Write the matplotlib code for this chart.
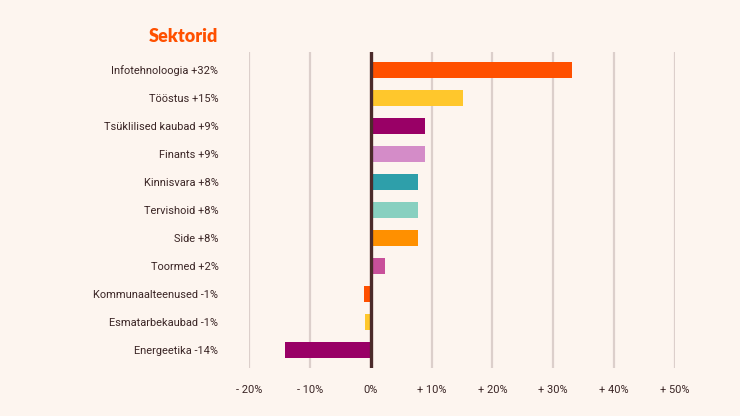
import matplotlib
matplotlib.use("Agg")
import matplotlib.pyplot as plt

categories = ["Infotehnoloogia +32%", "Tööstus +15%", "Tsüklilised kaubad +9%", "Finants +9%",
              "Kinnisvara +8%", "Tervishoid +8%", "Side +8%", "Toormed +2%",
              "Kommunaalteenused -1%", "Esmatarbekaubad -1%", "Energeetika -14%"]
values = [33.1, 15.1, 9.0, 9.0, 7.7, 7.7, 7.7, 2.3, -1.1, -1.0, -14.1]
colors = ["#FF5000", "#FFC72C", "#990066", "#D48CC8", "#2E9FAA", "#88D0C0",
          "#FF9000", "#C8509A", "#FF5000", "#FFC72C", "#990066"]
xticks = [-20, -10, 0, 10, 20, 30, 40, 50]
xticklabels = ["- 20%", "- 10%", "0%", "+ 10%", "+ 20%", "+ 30%", "+ 40%", "+ 50%"]

bg = "#FDF5EF"
txt = "#3A2525"

W, H = 740, 416
fig = plt.figure(figsize=(W/100, H/100), dpi=100, facecolor=bg)
ax = fig.add_axes([249/W, 1-368/H, (675-249)/W, (368-52)/H], facecolor=bg)

ypos = list(range(len(categories)))
for x in xticks:
    if x != 0:
        ax.axvline(x, color="#DCCFCB", lw=1.6, zorder=0)
ax.barh(ypos, values, height=0.54, color=colors, zorder=2)
ax.axvline(0, color="#4B2A2A", lw=2.4, zorder=3)

ax.set_xlim(-20, 50)
ax.set_ylim(len(categories)-1+0.643, -0.643)
ax.set_yticks(ypos)
ax.set_yticklabels(categories, fontfamily="Roboto", fontsize=7.9, color=txt)
ax.set_xticks(xticks)
ax.set_xticklabels(xticklabels, fontfamily="Roboto", fontsize=7.9, color=txt)
ax.tick_params(axis="y", length=0, pad=22)
ax.tick_params(axis="x", length=0, pad=12)
for s in ax.spines.values():
    s.set_visible(False)

fig.text(218/W, 1-36/H, "Sektorid", ha="right", va="center", fontfamily="Lato",
         fontweight="heavy", fontsize=13, color="#FF5000")

fig.savefig("out.png", dpi=100, facecolor=bg)
